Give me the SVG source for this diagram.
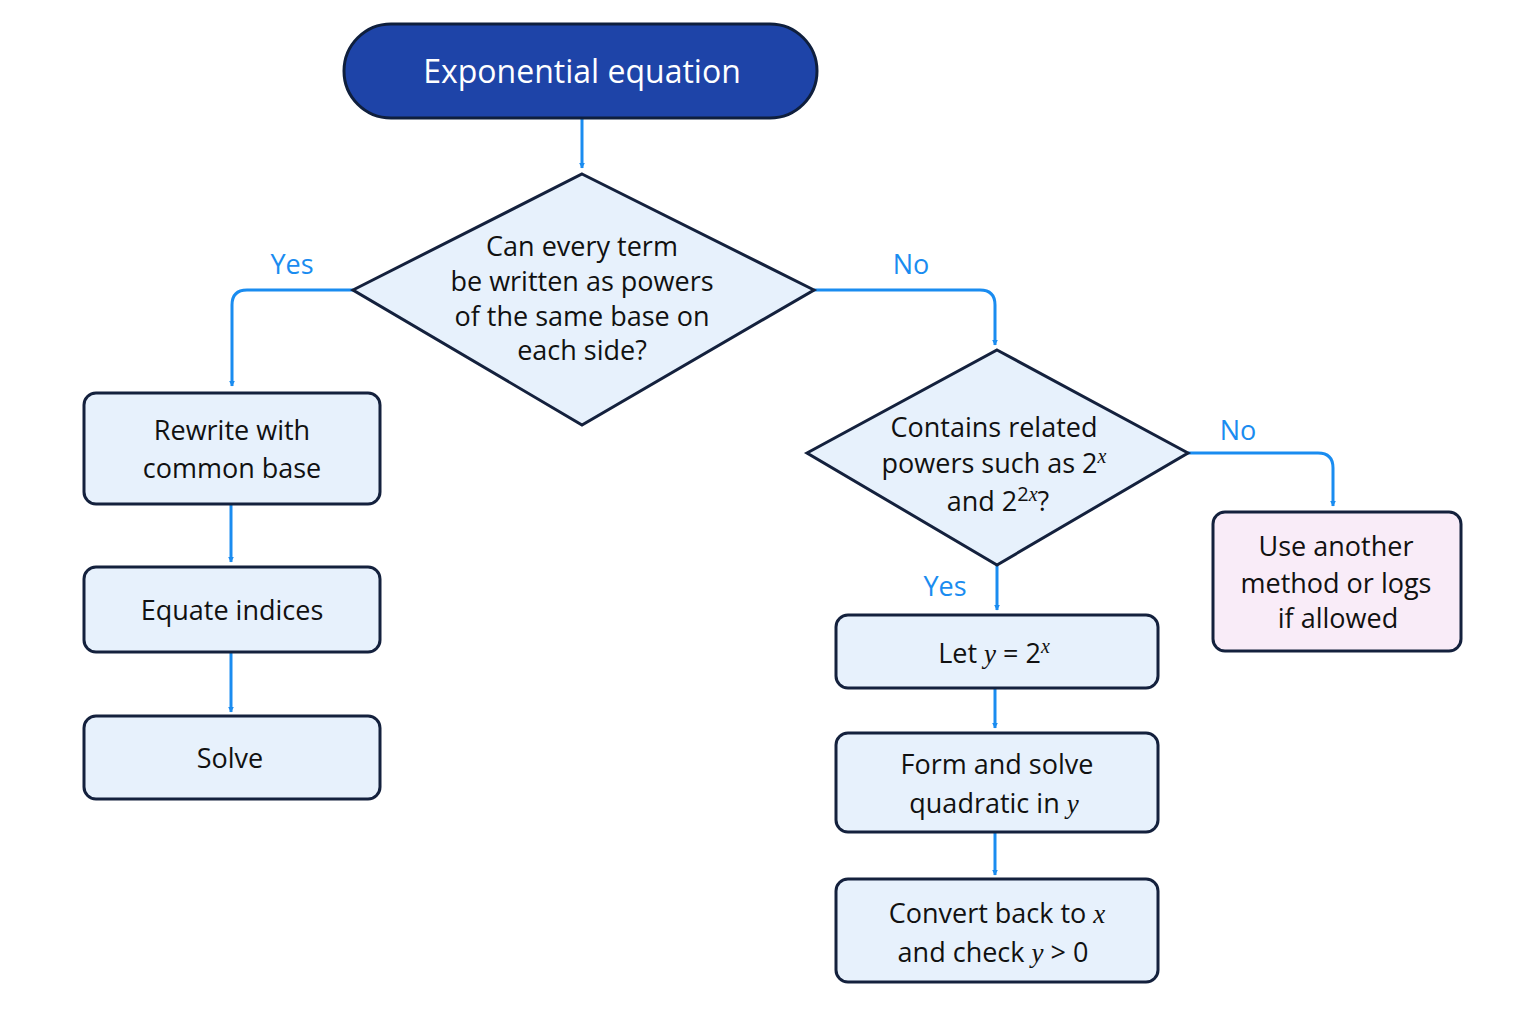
<svg xmlns="http://www.w3.org/2000/svg" width="1536" height="1024" viewBox="0 0 1536 1024">
<style>
.n{fill:#e7f1fc;stroke:#14213d;stroke-width:3}
.t{font-family:"Open Sans","Liberation Sans",sans-serif;font-size:27px;fill:#111;text-anchor:middle}
.m{font-family:"Liberation Serif",serif;font-style:italic}
.l{font-family:"Open Sans","Liberation Sans",sans-serif;font-size:27px;fill:#1a8cf0;text-anchor:middle}
.c{fill:none;stroke:#1a8cf0;stroke-width:3;marker-end:url(#a)}
</style>
<defs><marker id="a" viewBox="0 0 10 10" refX="9" refY="5" markerWidth="6" markerHeight="6" orient="auto" markerUnits="userSpaceOnUse"><path d="M0,0L10,5L0,10z" fill="#1a8cf0" transform="scale(1)"/></marker></defs>
<rect width="1536" height="1024" fill="#fff"/>
<g id="connectors">
<path class="c" d="M582,118V168"/>
<path class="c" d="M353,290H247Q232,290 232,305V386"/>
<path class="c" d="M814,290H980Q995,290 995,305V345"/>
<path class="c" d="M231,504V562"/>
<path class="c" d="M231,652V712"/>
<path class="c" d="M1188,453H1318Q1333,453 1333,468V506"/>
<path class="c" d="M997,565V610"/>
<path class="c" d="M995,688V728"/>
<path class="c" d="M995,832V875"/>
<text class="l" x="292" y="274">Yes</text>
<text class="l" x="911" y="274">No</text>
<text class="l" x="1238" y="440">No</text>
<text class="l" x="945" y="596">Yes</text>
</g>
<g id="start"><rect x="344" y="24" width="473" height="94" rx="47" fill="#1e44a8" stroke="#0f1f3d" stroke-width="3"/>
<text class="t" x="582" y="83" style="fill:#fff;font-size:32px">Exponential equation</text></g>
<g id="d1"><path class="n" d="M582,174L814,290L582,425L353,290Z"/>
<text class="t" x="582" y="256">Can every term</text><text class="t" x="582" y="291">be written as powers</text><text class="t" x="582" y="326">of the same base on</text><text class="t" x="582" y="360">each side?</text></g>
<g id="rewrite"><rect class="n" x="84" y="393" width="296" height="111" rx="12"/>
<text class="t" x="232" y="440">Rewrite with</text><text class="t" x="232" y="478">common base</text></g>
<g id="equate"><rect class="n" x="84" y="567" width="296" height="85" rx="12"/><text class="t" x="232" y="620">Equate indices</text></g>
<g id="solve"><rect class="n" x="84" y="716" width="296" height="83" rx="12"/><text class="t" x="230" y="768">Solve</text></g>
<g id="d2"><path class="n" d="M997,350L1188,453L997,565L807,453Z"/>
<text class="t" x="994" y="437">Contains related</text>
<text class="t" x="994" y="473">powers such as 2<tspan class="m" dy="-10" font-size="20">x</tspan></text>
<text class="t" x="998" y="511">and 2<tspan dy="-10" font-size="20">2<tspan class="m">x</tspan></tspan><tspan dy="10">?</tspan></text></g>
<g id="other"><rect x="1213" y="512" width="248" height="139" rx="12" fill="#f9ecf8" stroke="#14213d" stroke-width="3"/>
<text class="t" x="1336" y="556">Use another</text><text class="t" x="1336" y="593">method or logs</text><text class="t" x="1338" y="628">if allowed</text></g>
<g id="let"><rect class="n" x="836" y="615" width="322" height="73" rx="12"/>
<text class="t" x="994" y="663">Let <tspan class="m">y</tspan> = 2<tspan class="m" dy="-10" font-size="20">x</tspan></text></g>
<g id="form"><rect class="n" x="836" y="733" width="322" height="99" rx="12"/>
<text class="t" x="997" y="774">Form and solve</text><text class="t" x="994" y="813">quadratic in <tspan class="m">y</tspan></text></g>
<g id="convert"><rect class="n" x="836" y="879" width="322" height="103" rx="12"/>
<text class="t" x="997" y="923">Convert back to <tspan class="m">x</tspan></text><text class="t" x="993" y="962">and check <tspan class="m">y</tspan> &gt; 0</text></g>
</svg>
